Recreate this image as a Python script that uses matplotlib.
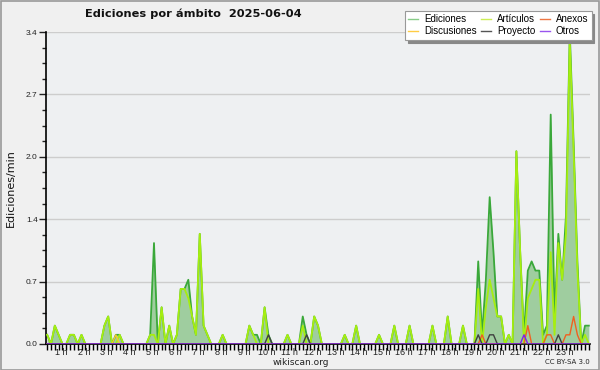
import numpy as np
import matplotlib
matplotlib.use('Agg')
import matplotlib.pyplot as plt
from matplotlib.lines import Line2D
from matplotlib.patches import Rectangle

# ---- data: edits per minute, 10-minute bins ----
ediciones = [
    0.1, 0, 0.2, 0.1, 0, 0,
    0.1, 0.1, 0, 0.1, 0, 0,
    0, 0, 0, 0.2, 0.3, 0,
    0.1, 0.1, 0, 0, 0, 0,
    0, 0, 0, 0.1, 1.1, 0,
    0.4, 0, 0.2, 0, 0.1, 0.6,
    0.6, 0.7, 0.3, 0.1, 1.2, 0.2,
    0.1, 0, 0, 0, 0.1, 0,
    0, 0, 0, 0, 0, 0.2,
    0.1, 0.1, 0, 0.4, 0.1, 0,
    0, 0, 0, 0.1, 0, 0,
    0, 0.3, 0.1, 0, 0.3, 0.2,
    0, 0, 0, 0, 0, 0,
    0.1, 0, 0, 0.2, 0, 0,
    0, 0, 0, 0.1, 0, 0,
    0, 0.2, 0, 0, 0, 0.2,
    0, 0, 0, 0, 0, 0.2,
    0, 0, 0, 0.3, 0, 0,
    0, 0.2, 0, 0, 0, 0.9,
    0.1, 0.7, 1.6, 1.0, 0.3, 0.3,
    0, 0.1, 0, 2.1, 1.0, 0.1,
    0.8, 0.9, 0.8, 0.8, 0.1, 0.2,
    2.5, 0.3, 1.2, 0.7, 1.4, 3.4,
    2.2, 0.9, 0, 0.2, 0.2,
]
articulos = [
    0.1, 0, 0.2, 0.1, 0, 0,
    0.1, 0.1, 0, 0.1, 0, 0,
    0, 0, 0, 0.2, 0.3, 0,
    0, 0.1, 0, 0, 0, 0,
    0, 0, 0, 0.1, 0.1, 0,
    0.4, 0, 0.2, 0, 0.1, 0.6,
    0.6, 0.5, 0.3, 0.1, 1.2, 0.2,
    0.1, 0, 0, 0, 0.1, 0,
    0, 0, 0, 0, 0, 0.2,
    0.1, 0, 0, 0.4, 0, 0,
    0, 0, 0, 0.1, 0, 0,
    0, 0.2, 0, 0, 0.3, 0.2,
    0, 0, 0, 0, 0, 0,
    0.1, 0, 0, 0.2, 0, 0,
    0, 0, 0, 0.1, 0, 0,
    0, 0.2, 0, 0, 0, 0.2,
    0, 0, 0, 0, 0, 0.2,
    0, 0, 0, 0.3, 0, 0,
    0, 0.2, 0, 0, 0, 0.6,
    0, 0.4, 0.7, 0.5, 0.3, 0.3,
    0, 0.1, 0, 2.1, 1.0, 0,
    0.5, 0.6, 0.7, 0.7, 0, 0.1,
    1.0, 0.1, 1.1, 0.7, 1.2, 3.3,
    2.1, 0.8, 0, 0.1, 0,
]
anexos = [0] * 114 + [0.1] + [0] * 11 + [0.2] + [0] * 4 + [0.1, 0.1, 0, 0, 0, 0.1, 0.1, 0.3, 0.1, 0, 0, 0]
discusiones = [0] * 18 + [0.1] + [0] * 124
proyecto = ([0] * 58 + [0.1] + [0] * 9 + [0.1] + [0] * 44 + [0.1, 0, 0, 0.1, 0.1]
            + [0] * 16 + [0.1] + [0] * 8)
otros = [0] * 125 + [0.1] + [0] * 17

hour_labels = [f"{h} h" for h in range(1, 24)]
y_ticks = [0, 0.68, 1.36, 2.04, 2.72, 3.4]
y_labels = ["0.0", "0.7", "1.4", "2.0", "2.7", "3.4"]

x = np.arange(len(ediciones))

fig = plt.figure(figsize=(6, 3.7), dpi=100)
fig.patch.set_facecolor('#f0f0f0')
ax = fig.add_axes([46 / 600, 26 / 370, 544 / 600, 312 / 370])
ax.set_facecolor('#eef0f2')

ax.fill_between(x, ediciones, 0, color='#9fcd9f', lw=0, zorder=2)
ax.plot(x, ediciones, color='#3aa83a', lw=1.3, zorder=3)
ax.plot(x, articulos, color='#a6ee10', lw=1.3, zorder=4)
ax.plot(x, discusiones, color='#f5c830', lw=1.0, zorder=5)
ax.plot(x, anexos, color='#f06020', lw=1.0, zorder=5)
ax.plot(x, proyecto, color='#404040', lw=1.0, zorder=5)
ax.plot(x, otros, color='#8020f0', lw=1.0, zorder=6)

ax.set_xlim(-0.31, 142.3)
ax.set_ylim(0, 3.4)

ax.set_yticks(y_ticks)
ax.set_yticklabels(y_labels, fontfamily='Liberation Sans')
ax.set_yticks(np.arange(0, 3.41, 0.17), minor=True)
ax.grid(axis='y', color='#cdcdcd', lw=1, zorder=1)
ax.tick_params(axis='y', which='major', length=5, width=1, labelsize=6, colors='#222222', pad=1)
ax.tick_params(axis='y', which='minor', length=3, width=1, colors='#222222')

ax.set_xticks([6 * h - 2.4 for h in range(1, 24)])
ax.set_xticklabels(hour_labels, fontfamily='Liberation Sans')
ax.set_xticks(np.arange(0, 143, 1), minor=True)
ax.tick_params(axis='x', which='major', length=0, labelsize=6.5, colors='#222222', pad=3)
ax.tick_params(axis='x', which='minor', length=4, width=1, colors='#000000')

for s in ['top', 'right']:
    ax.spines[s].set_visible(False)
for s in ['left', 'bottom']:
    ax.spines[s].set_color('#000000')
    ax.spines[s].set_linewidth(1.2)

ax.set_ylabel('Ediciones/min', fontsize=8, labelpad=7, color='#111111')

fig.text(85 / 600, 1 - 14 / 370, 'Ediciones por ámbito  2025-06-04', fontsize=8.2,
         fontweight='bold', ha='left', va='center', color='#111111')
fig.text(301 / 600, 1 - 362.5 / 370, 'wikiscan.org', fontsize=6.5, ha='center', va='center',
         color='#222222')
fig.text(590 / 600, 1 - 362.5 / 370, 'CC BY-SA 3.0', fontsize=5, ha='right', va='center',
         color='#222222')

handles = [
    Line2D([], [], color='#88cc88', lw=1),
    Line2D([], [], color='#ffcc44', lw=1),
    Line2D([], [], color='#ccee55', lw=1),
    Line2D([], [], color='#555555', lw=1),
    Line2D([], [], color='#ee7744', lw=1),
    Line2D([], [], color='#9955ee', lw=1),
]
labels = ['Ediciones', 'Discusiones', 'Artículos', 'Proyecto', 'Anexos', 'Otros']
leg = fig.legend(handles, labels, ncol=3, loc='upper left',
                 bbox_to_anchor=(405 / 600, 1 - 11 / 370),
                 prop={'family': 'Liberation Sans', 'size': 7}, frameon=True, fancybox=False,
                 shadow={'color': '#888888', 'alpha': 1},
                 handlelength=1.0, handletextpad=0.6, columnspacing=0.5,
                 labelspacing=0.2, borderpad=0.35, borderaxespad=0)
leg.get_frame().set_edgecolor('#999999')
leg.get_frame().set_facecolor('#ffffff')
leg.get_frame().set_linewidth(0.8)

fig.patches.append(Rectangle((0.001, 0.001), 0.997, 0.996, transform=fig.transFigure,
                             fill=False, edgecolor='#999999', lw=1.2))

fig.savefig('out.png', dpi=100, facecolor=fig.get_facecolor())
